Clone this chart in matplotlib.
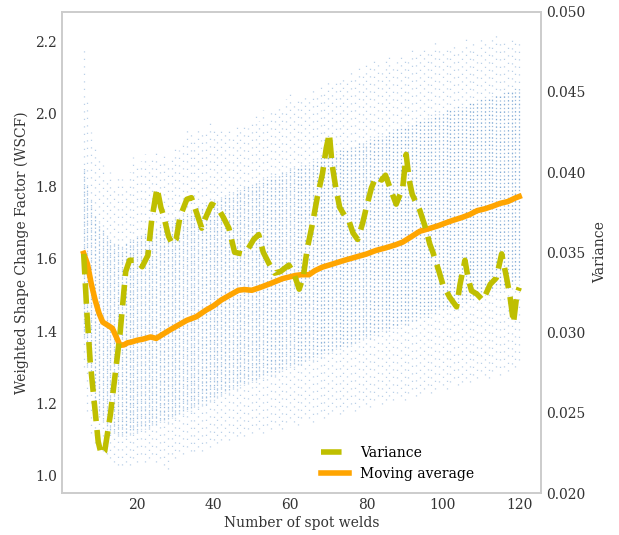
import matplotlib
matplotlib.use('Agg')
import matplotlib.pyplot as plt
import numpy as np

plt.rcParams['font.family'] = 'serif'
plt.rcParams['font.serif'] = ['DejaVu Serif']

# Number of spot welds (one column of points per value)
welds = list(range(6, 121))

# Spread of the WSCF points per number of spot welds (sparse outer range)
hi_out = [2.19, 2.04, 1.95, 1.92, 1.88, 1.86, 1.82, 1.84, 1.80, 1.83,
          1.82, 1.80, 1.84, 1.88, 1.85, 1.87, 1.89, 1.86, 1.88, 1.90,
          1.87, 1.89, 1.86, 1.88, 1.92, 1.90, 1.93, 1.96, 1.95, 1.94,
          1.97, 1.95, 1.96, 1.98, 1.96, 1.95, 1.97, 1.95, 1.96, 1.94,
          1.97, 1.96, 1.98, 1.96, 1.99, 2.00, 1.98, 2.01, 1.99, 2.02,
          2.01, 2.03, 2.02, 2.04, 2.06, 2.03, 2.05, 2.04, 2.06, 2.05,
          2.07, 2.06, 2.08, 2.07, 2.09, 2.08, 2.10, 2.09, 2.11, 2.10,
          2.12, 2.11, 2.13, 2.12, 2.14, 2.13, 2.15, 2.14, 2.12, 2.15,
          2.16, 2.14, 2.15, 2.17, 2.15, 2.16, 2.18, 2.16, 2.17, 2.19,
          2.17, 2.18, 2.20, 2.18, 2.17, 2.19, 2.18, 2.20, 2.18, 2.19,
          2.21, 2.19, 2.20, 2.18, 2.21, 2.20, 2.19, 2.21, 2.22, 2.20,
          2.21, 2.19, 2.22, 2.20, 2.21]
lo_out = [1.30, 1.18, 1.12, 1.09, 1.08, 1.07, 1.06, 1.05, 1.04, 1.03,
          1.03, 1.04, 1.03, 1.05, 1.04, 1.06, 1.04, 1.05, 1.06, 1.04,
          1.05, 1.03, 1.02, 1.06, 1.05, 1.07, 1.06, 1.08, 1.07, 1.07,
          1.08, 1.07, 1.09, 1.08, 1.10, 1.09, 1.10, 1.11, 1.10, 1.12,
          1.11, 1.12, 1.11, 1.13, 1.12, 1.14, 1.13, 1.12, 1.14, 1.13,
          1.15, 1.14, 1.13, 1.15, 1.16, 1.15, 1.14, 1.16, 1.17, 1.16,
          1.15, 1.17, 1.18, 1.16, 1.17, 1.18, 1.19, 1.17, 1.18, 1.19,
          1.20, 1.18, 1.19, 1.21, 1.20, 1.19, 1.21, 1.22, 1.20, 1.21,
          1.22, 1.21, 1.23, 1.22, 1.21, 1.23, 1.24, 1.22, 1.23, 1.24,
          1.25, 1.23, 1.24, 1.26, 1.25, 1.24, 1.26, 1.27, 1.25, 1.26,
          1.27, 1.26, 1.28, 1.27, 1.29, 1.28, 1.27, 1.29, 1.30, 1.28,
          1.30, 1.29, 1.31, 1.30, 1.32]

# Dense core of the points
hi_core = [1.85, 1.80, 1.76, 1.72, 1.70, 1.68, 1.66, 1.65, 1.64, 1.64,
           1.63, 1.64, 1.65, 1.65, 1.66, 1.66, 1.67, 1.67, 1.68, 1.68,
           1.69, 1.69, 1.70, 1.70, 1.71, 1.71, 1.72, 1.72, 1.73, 1.73,
           1.74, 1.74, 1.75, 1.75, 1.76, 1.76, 1.77, 1.77, 1.78, 1.78,
           1.79, 1.79, 1.80, 1.80, 1.80, 1.81, 1.81, 1.82, 1.82, 1.83,
           1.83, 1.83, 1.84, 1.84, 1.85, 1.85, 1.85, 1.86, 1.86, 1.86,
           1.87, 1.87, 1.88, 1.88, 1.88, 1.89, 1.89, 1.90, 1.90, 1.90,
           1.91, 1.91, 1.92, 1.92, 1.92, 1.93, 1.93, 1.94, 1.94, 1.94,
           1.95, 1.95, 1.96, 1.96, 1.96, 1.97, 1.97, 1.98, 1.98, 1.98,
           1.99, 1.99, 2.00, 2.00, 2.00, 2.01, 2.01, 2.01, 2.02, 2.02,
           2.02, 2.03, 2.03, 2.03, 2.04, 2.04, 2.04, 2.05, 2.05, 2.05,
           2.06, 2.06, 2.06, 2.07, 2.07]
lo_core = [1.38, 1.30, 1.24, 1.20, 1.17, 1.15, 1.13, 1.12, 1.12, 1.11,
           1.11, 1.11, 1.12, 1.12, 1.12, 1.13, 1.13, 1.13, 1.14, 1.14,
           1.15, 1.15, 1.15, 1.16, 1.16, 1.17, 1.17, 1.18, 1.18, 1.19,
           1.19, 1.20, 1.20, 1.21, 1.21, 1.22, 1.22, 1.23, 1.23, 1.24,
           1.24, 1.25, 1.25, 1.26, 1.26, 1.26, 1.27, 1.27, 1.28, 1.28,
           1.28, 1.29, 1.29, 1.30, 1.30, 1.30, 1.31, 1.31, 1.32, 1.32,
           1.32, 1.33, 1.33, 1.34, 1.34, 1.34, 1.35, 1.35, 1.36, 1.36,
           1.36, 1.37, 1.37, 1.38, 1.38, 1.38, 1.39, 1.39, 1.40, 1.40,
           1.40, 1.41, 1.41, 1.42, 1.42, 1.42, 1.43, 1.43, 1.44, 1.44,
           1.44, 1.45, 1.45, 1.46, 1.46, 1.46, 1.47, 1.47, 1.48, 1.48,
           1.48, 1.49, 1.49, 1.50, 1.50, 1.50, 1.51, 1.51, 1.52, 1.52,
           1.52, 1.53, 1.53, 1.54, 1.54]

# Moving average of WSCF
ma_x = [6, 7, 8, 9, 10, 11, 12.5, 13.5, 14.5, 15.5, 16.5, 17.5, 18.5, 20,
        21.5, 23.5, 25, 26.5, 28.5, 30.5, 33, 35.5, 38, 40, 42, 44, 46.5,
        48, 50, 52, 55, 58, 61.5, 63, 65, 66.5, 68.5, 71, 74, 77.3, 80,
        82.5, 85, 87.5, 89.5, 91, 92.5, 94, 96.6, 99, 100.5, 102.6, 105,
        107, 109, 111, 113, 115, 117, 119, 120]
ma_y = [1.615, 1.585, 1.53, 1.486, 1.45, 1.425, 1.415, 1.408, 1.385, 1.361,
        1.362, 1.368, 1.37, 1.375, 1.378, 1.384, 1.38, 1.39, 1.403, 1.415,
        1.43, 1.44, 1.458, 1.47, 1.486, 1.498, 1.513, 1.515, 1.513, 1.52,
        1.532, 1.545, 1.554, 1.556, 1.556, 1.567, 1.577, 1.585, 1.595, 1.605,
        1.613, 1.623, 1.63, 1.638, 1.646, 1.656, 1.666, 1.676, 1.684, 1.692,
        1.698, 1.706, 1.714, 1.722, 1.733, 1.738, 1.745, 1.753, 1.758, 1.768,
        1.772]

# Variance of WSCF
var_x = [6, 6.8, 7.7, 9, 9.8, 10.6, 11.5, 13, 15.5, 17, 18, 19.8, 21.3,
         22.8, 23.8, 25.2, 26.2, 27, 28.2, 29.2, 30.2, 31.2, 33, 34.2, 35.5,
         36.9, 38, 39.5, 41, 42.5, 44, 45.5, 47.4, 49, 50.5, 51.8, 53, 54.5,
         56, 57.5, 59.7, 61, 62.4, 63.5, 64.5, 65.9, 67.2, 68.5, 69.5, 70.3,
         71, 72, 73, 74.5, 75.5, 76.5, 77.7, 79, 80, 81.3, 82.5, 84, 85,
         86.5, 87.8, 89.5, 90.4, 91.2, 92, 94, 95.5, 96.6, 97.4, 99, 100,
         101.8, 103.6, 104.5, 105.8, 106.6, 107.5, 108.9, 110.5, 112.4, 114,
         115.4, 116.7, 117.6, 118.5, 119.4, 120]
var_y = [0.0349, 0.0314, 0.0282, 0.0251, 0.0232, 0.0224, 0.0226, 0.0249,
         0.0299, 0.0338, 0.0345, 0.0345, 0.0341, 0.0348, 0.0370, 0.0390,
         0.0378, 0.0372, 0.0360, 0.0355, 0.0358, 0.0372, 0.0383, 0.0384,
         0.0375, 0.0365, 0.0372, 0.0380, 0.0378, 0.0372, 0.0365, 0.0350,
         0.0349, 0.0352, 0.0358, 0.0361, 0.0350, 0.0343, 0.0337, 0.0338,
         0.0342, 0.0337, 0.0327, 0.0335, 0.0352, 0.0368, 0.0385, 0.0399,
         0.0415, 0.0424, 0.0405, 0.0390, 0.0378, 0.0372, 0.0369, 0.0362,
         0.0358, 0.0368, 0.0378, 0.0390, 0.0397, 0.0395, 0.0398, 0.0388,
         0.0380, 0.0390, 0.0411, 0.0395, 0.0386, 0.0376, 0.0365, 0.0355,
         0.0350, 0.0338, 0.0330, 0.0322, 0.0316, 0.0330, 0.0345, 0.0334,
         0.0326, 0.0324, 0.0320, 0.0330, 0.0334, 0.0349, 0.0334, 0.0322,
         0.0306, 0.0324, 0.0328]

grey = '#cccccc'
text_col = '#333333'
dot_col = '#3a7bbf'

fig = plt.figure(figsize=(6.19, 5.35), dpi=100)
ax = fig.add_axes([0.100, 0.0785, 0.774, 0.900])
ax2 = ax.twinx()

# Points, drawn as columns of dots
ax.vlines(welds, lo_out, hi_out, colors=dot_col, linestyles=(0, (1, 5)),
          linewidth=0.9, alpha=0.35)
ax.vlines(welds, lo_core, hi_core, colors=dot_col, linestyles=(0.5, (1, 2)),
          linewidth=0.9, alpha=0.5)

ma_line, = ax.plot(ma_x, ma_y, color='orange', linewidth=4, label='Moving average')
var_line, = ax2.plot(var_x, var_y, color='y', linestyle='--', linewidth=4, label='Variance')

ax.set_xlim(0.3, 125.7)
ax.set_ylim(0.953, 2.283)
ax.set_xticks([20, 40, 60, 80, 100, 120])
ax.set_yticks([1.0, 1.2, 1.4, 1.6, 1.8, 2.0, 2.2])
ax2.set_ylim(0.020, 0.050)
ax2.set_yticks([0.020, 0.025, 0.030, 0.035, 0.040, 0.045, 0.050])

ax.set_xlabel('Number of spot welds', fontsize=10, color=text_col, labelpad=3)
ax.set_ylabel('Weighted Shape Change Factor (WSCF)', fontsize=10, color=text_col, labelpad=4)
ax2.set_ylabel('Variance', fontsize=10, color=text_col, labelpad=6)

for a in (ax, ax2):
    a.tick_params(length=0, labelsize=10, labelcolor=text_col, pad=3.5)
    a.grid(False)
    for s in a.spines.values():
        s.set_color(grey)
        s.set_linewidth(1.2)

ax2.legend([var_line, ma_line], ['Variance', 'Moving average'], loc='lower center',
           bbox_to_anchor=(0.7, 0.0), frameon=False, fontsize=10)

plt.savefig('out.png')
plt.close()
